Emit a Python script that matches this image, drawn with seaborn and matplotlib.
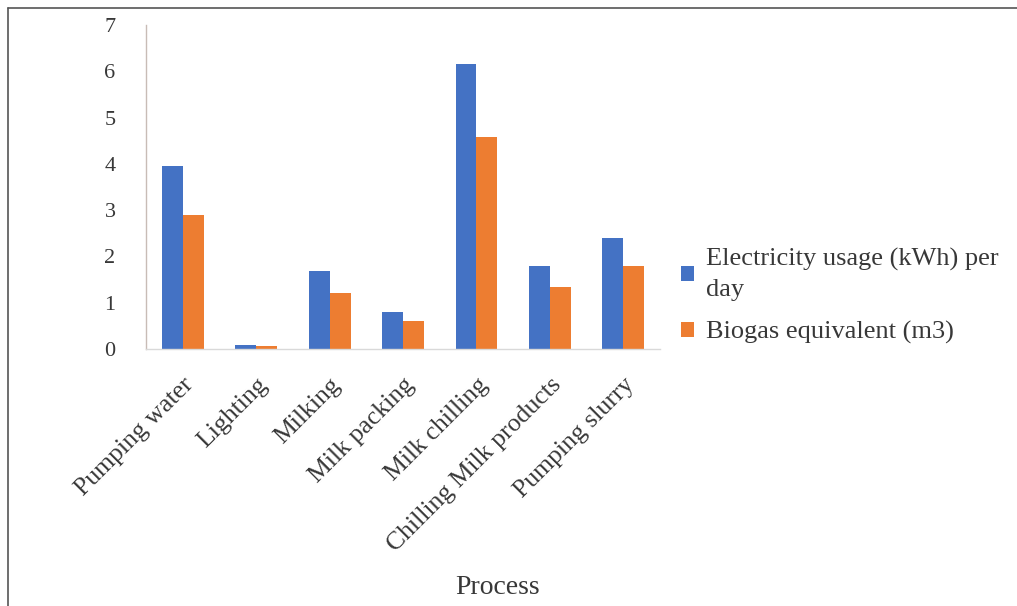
import matplotlib
matplotlib.use("Agg")
import matplotlib.pyplot as plt
from matplotlib.lines import Line2D
from matplotlib.patches import Patch
import pandas as pd
import seaborn as sns

# Daily energy use per dairy process and its biogas equivalent
processes = ["Pumping water", "Lighting", "Milking", "Milk packing",
             "Milk chilling", "Chilling Milk products", "Pumping slurry"]
electricity_kwh = [3.95, 0.08, 1.68, 0.80, 6.15, 1.80, 2.40]
biogas_m3 = [2.90, 0.06, 1.22, 0.60, 4.58, 1.35, 1.80]
series_names = ["Electricity usage (kWh) per\nday", "Biogas equivalent (m3)"]
y_ticks = [0, 1, 2, 3, 4, 5, 6, 7]

df = pd.DataFrame({
    "Process": processes * 2,
    "Value": electricity_kwh + biogas_m3,
    "Series": [series_names[0]] * len(processes) + [series_names[1]] * len(processes),
})

sns.set_theme(style="white")
plt.rcParams["font.family"] = ["Liberation Serif", "DejaVu Serif"]
text_color = "#383838"
colors = ["#4472C4", "#ED7D31"]

fig = plt.figure(figsize=(10.17, 6.06), dpi=100)
ax = fig.add_axes([0.1436, 0.4241, 0.5054, 0.5346])

sns.barplot(data=df, x="Process", y="Value", hue="Series", order=processes,
            hue_order=series_names, palette=colors, width=0.57,
            saturation=1, linewidth=0, ax=ax, legend=False)

ax.set_ylim(0, 7)
ax.set_yticks(y_ticks)
ax.set_yticklabels([str(t) for t in y_ticks], fontsize=16, color=text_color)
ax.tick_params(axis="y", length=0, pad=22)
ax.tick_params(axis="x", length=0, pad=18)
ax.set_xticks(range(len(processes)))
ax.set_xticklabels(processes, rotation=45, ha="right", rotation_mode="anchor",
                   fontsize=18.5, color=text_color)
ax.set_ylabel("")
ax.set_xlabel("Process", fontsize=20, color=text_color)
ax.xaxis.set_label_coords(0.683, -0.735)
ax.xaxis.label.set_va("center")

for side in ("top", "right"):
    ax.spines[side].set_visible(False)
ax.spines["left"].set_color("#c8bcb6")
ax.spines["left"].set_linewidth(1.0)
ax.spines["bottom"].set_color("#d9d9d9")
ax.spines["bottom"].set_linewidth(1.0)

handles = [Patch(facecolor=c, edgecolor="none") for c in colors]
leg = ax.legend(handles, series_names, loc="center left",
                bbox_to_anchor=(681 / 1017, 1 - 296 / 606), bbox_transform=fig.transFigure,
                frameon=False, fontsize=19, labelcolor=text_color,
                handlelength=0.5, handleheight=0.5, handletextpad=0.45,
                labelspacing=0.75, borderaxespad=0, borderpad=0)
for t in leg.get_texts():
    t.set_linespacing(1.5)

# Frame edges of the chart area
fig.add_artist(Line2D([8 / 1017, 1.0], [1 - 8 / 606, 1 - 8 / 606],
                      transform=fig.transFigure, color="#555555", linewidth=1.2))
fig.add_artist(Line2D([8 / 1017, 8 / 1017], [0.0, 1 - 8 / 606],
                      transform=fig.transFigure, color="#555555", linewidth=1.2))

fig.savefig("out.png", dpi=100, facecolor="white")
